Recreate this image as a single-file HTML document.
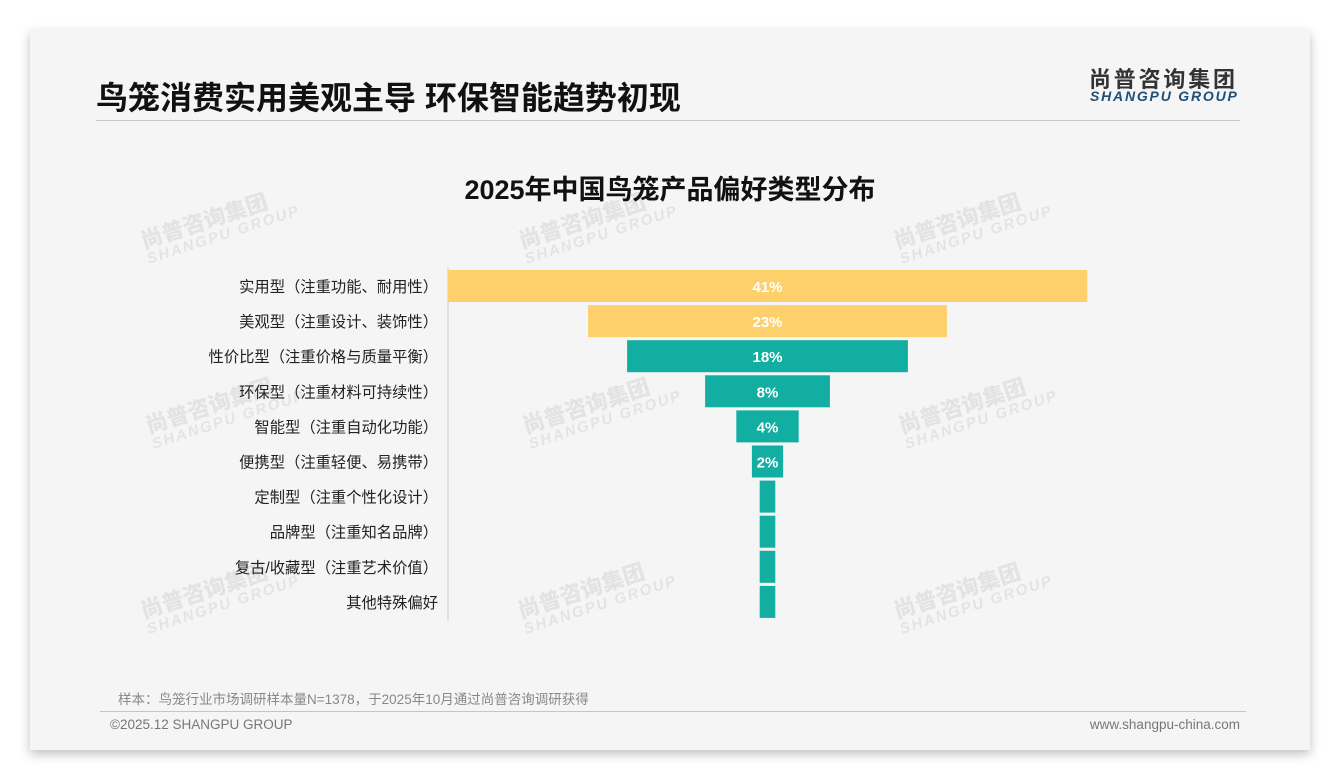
<!DOCTYPE html>
<html><head><meta charset="utf-8">
<style>
body{margin:0;width:1340px;height:780px;background:#fff;font-family:"Liberation Sans","Noto Sans CJK SC",sans-serif;position:relative;overflow:hidden}
.card{position:absolute;left:30px;top:30px;width:1280px;height:720px;background:#f5f5f5;box-shadow:0 4px 10px rgba(0,0,0,0.25)}
.title{position:absolute;left:96px;top:73px;font-size:32px;font-weight:bold;color:#111;letter-spacing:0px}
.hr1{position:absolute;left:96px;top:120px;width:1144px;height:1px;background:#c8c8c8}
.logo1{position:absolute;left:1089px;top:62px;font-size:22px;font-weight:bold;color:#333;letter-spacing:2.8px}
.logo2{position:absolute;left:1090px;top:88px;font-size:14px;font-weight:bold;font-style:italic;color:#1f4e79;letter-spacing:1.8px}
.ctitle{position:absolute;left:0;width:1340px;top:168px;text-align:center;font-size:27px;font-weight:bold;color:#111}
.wm{position:absolute;color:rgba(0,0,0,0.07);font-weight:bold;transform:rotate(-18deg);line-height:1.05}
.wm b{display:block;font-size:22px}.wm i{display:block;font-size:15px;font-style:italic;letter-spacing:2px}
.note{position:absolute;left:118px;top:688px;font-size:13.5px;color:#888}
.hr2{position:absolute;left:100px;top:711px;width:1146px;height:1px;background:#b8c8d8}
.copy{position:absolute;left:110px;top:717px;font-size:13.5px;color:#777}
.url{position:absolute;right:100px;top:717px;font-size:13.5px;color:#777}
</style></head><body>
<div class="card"></div>
<div class="title">鸟笼消费实用美观主导 环保智能趋势初现</div>
<div class="hr1"></div>
<div class="logo1">尚普咨询集团</div>
<div class="logo2">SHANGPU GROUP</div>
<div class="ctitle">2025年中国鸟笼产品偏好类型分布</div>
<div id="wms"></div>
<svg id="chart" width="1340" height="780" style="position:absolute;left:0;top:0"></svg>
<div class="note">样本：鸟笼行业市场调研样本量N=1378，于2025年10月通过尚普咨询调研获得</div>
<div class="hr2"></div>
<div class="copy">©2025.12 SHANGPU GROUP</div>
<div class="url">www.shangpu-china.com</div>
<script>
const categories=["实用型（注重功能、耐用性）","美观型（注重设计、装饰性）","性价比型（注重价格与质量平衡）","环保型（注重材料可持续性）","智能型（注重自动化功能）","便携型（注重轻便、易携带）","定制型（注重个性化设计）","品牌型（注重知名品牌）","复古/收藏型（注重艺术价值）","其他特殊偏好"];
const values=[41,23,18,8,4,2,1,1,1,1];
const showLabels=[true,true,true,true,true,true,false,false,false,false];
const NS="http://www.w3.org/2000/svg";
const svg=document.getElementById('chart');
const cx=767.5, pxPer=15.6, top0=270, step=35.1, bh=32;
const xw=v=>v*pxPer;
const yr=i=>top0+i*step;
const ax=document.createElementNS(NS,'line');
ax.setAttribute('x1',448);ax.setAttribute('x2',448);ax.setAttribute('y1',268);ax.setAttribute('y2',621);
ax.setAttribute('stroke','#ccc');


svg.appendChild(ax);
values.forEach((v,i)=>{
  const w=xw(v);
  const r=document.createElementNS(NS,'rect');
  r.setAttribute('x',cx-w/2);r.setAttribute('y',yr(i));r.setAttribute('width',w);r.setAttribute('height',bh);
  r.setAttribute('fill',i<2?'#fdd06b':'#12aea2');
  
  
  svg.appendChild(r);
  if(showLabels[i]){
    const t=document.createElementNS(NS,'text');
    t.setAttribute('x',cx);t.setAttribute('y',yr(i)+bh/2+6);t.setAttribute('text-anchor','middle');
    t.setAttribute('fill','#fff');t.setAttribute('font-size','15');t.setAttribute('font-weight','bold');
    t.textContent=v+'%';
    
    
    svg.appendChild(t);
  }
  const l=document.createElementNS(NS,'text');
  l.setAttribute('x',438);l.setAttribute('y',yr(i)+bh/2+6);l.setAttribute('text-anchor','end');
  l.setAttribute('fill','#222');l.setAttribute('font-size','15.3');
  l.textContent=categories[i];
  
  
  svg.appendChild(l);
});
const wpos=[[140,205],[518,205],[893,205],[145,390],[522,390],[898,390],[140,575],[517,575],[893,575]];
const wms=document.getElementById('wms');
wpos.forEach(p=>{
  const d=document.createElement('div');
  d.className='wm';d.style.left=p[0]+'px';d.style.top=p[1]+'px';
  d.innerHTML='<b>尚普咨询集团</b><i>SHANGPU GROUP</i>';
  
  
  wms.appendChild(d);
});
</script>
</body></html>
